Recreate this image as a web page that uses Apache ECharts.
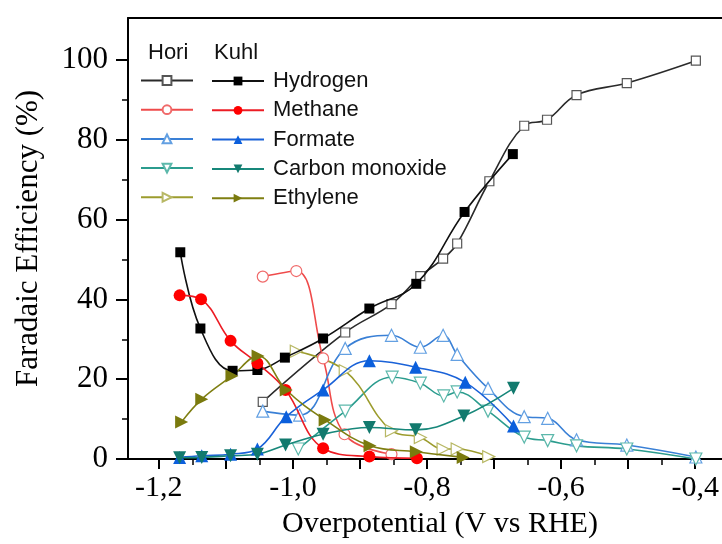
<!DOCTYPE html>
<html>
<head>
<meta charset="utf-8">
<script src="https://cdn.jsdelivr.net/npm/echarts@6/dist/echarts.min.js"></script>
<style>
  html, body { margin: 0; padding: 0; background: #fff; }
  #chart { width: 722px; height: 544px; }
</style>
</head>
<body>
<div id="chart"></div>
<script>
// Potentials (V vs RHE) and Faradaic efficiencies (%) per product
const horiH2X = [-1.045, -0.922, -0.853, -0.810, -0.776, -0.755, -0.707, -0.655, -0.621, -0.577, -0.502, -0.399];
const horiH2Y = [14.3, 31.7, 38.8, 45.8, 50.2, 54.0, 69.6, 83.5, 85.0, 91.2, 94.2, 99.8];
const kuhlH2X = [-1.168, -1.138, -1.090, -1.053, -1.012, -0.955, -0.886, -0.816, -0.744, -0.672];
const kuhlH2Y = [51.8, 32.7, 22.1, 22.3, 25.4, 30.2, 37.7, 43.9, 61.9, 76.4];

const horiCH4X = [-1.045, -0.995, -0.955, -0.923, -0.853];
const horiCH4Y = [45.7, 47.1, 25.2, 6.2, 1.2];
const kuhlCH4X = [-1.169, -1.137, -1.093, -1.053, -1.011, -0.955, -0.886, -0.815];
const kuhlCH4Y = [41.0, 40.0, 29.6, 24.0, 17.3, 2.7, 0.6, 0.2];

const horiHCOOX = [-1.045, -0.990, -0.922, -0.853, -0.810, -0.776, -0.755, -0.709, -0.655, -0.620, -0.577, -0.502, -0.399];
const horiHCOOY = [12.0, 11.0, 27.7, 31.0, 28.0, 31.0, 26.2, 17.7, 10.6, 10.2, 4.8, 3.5, 0.5];
const kuhlHCOOX = [-1.169, -1.136, -1.093, -1.053, -1.010, -0.955, -0.886, -0.817, -0.743, -0.671];
const kuhlHCOOY = [0.4, 0.8, 1.2, 2.5, 10.6, 17.3, 24.6, 23.0, 19.2, 8.3];

const horiCOX = [-0.992, -0.922, -0.852, -0.810, -0.775, -0.755, -0.709, -0.655, -0.620, -0.577, -0.502, -0.399];
const horiCOY = [2.5, 12.0, 20.5, 19.0, 15.8, 16.8, 12.0, 5.5, 4.6, 3.3, 2.5, 0.0];
const kuhlCOX = [-1.169, -1.136, -1.093, -1.053, -1.011, -0.955, -0.886, -0.817, -0.745, -0.671];
const kuhlCOY = [0.3, 0.4, 0.8, 1.2, 3.5, 6.2, 7.9, 7.3, 10.8, 17.7];

const horiC2H4X = [-0.995, -0.922, -0.853, -0.810, -0.776, -0.755, -0.708];
const horiC2H4Y = [27.0, 22.1, 7.1, 5.4, 2.5, 2.5, 0.6];
const kuhlC2H4X = [-1.166, -1.136, -1.091, -1.052, -1.010, -0.952, -0.885, -0.816, -0.746];
const kuhlC2H4Y = [9.3, 15.0, 20.8, 25.8, 17.3, 9.8, 3.3, 1.8, 0.4];

const products = ['Hydrogen', 'Methane', 'Formate', 'Carbon monoxide', 'Ethylene'];
const xLabelTicks = [-1.2, -1.0, -0.8, -0.6, -0.4];
const yLabelTicks = [0, 20, 40, 60, 80, 100];

const serif = 'Liberation Serif';
const sans = 'Liberation Sans';

function pairs(xs, ys) { return xs.map((x, i) => [x, ys[i]]); }

function series(name, xs, ys, opt) {
  return {
    name: name,
    type: 'line',
    smooth: 0.4,
    data: pairs(xs, ys),
    symbol: opt.symbol,
    symbolSize: opt.size,
    symbolRotate: opt.rotate || 0,
    lineStyle: { color: opt.line, width: 1.6 },
    itemStyle: opt.open
      ? { color: '#ffffff', borderColor: opt.mark, borderWidth: 1.2 }
      : { color: opt.mark, borderColor: opt.mark, borderWidth: 0 },
    z: opt.open ? 2 : 3,
    animation: false
  };
}

const seriesList = [
  series('Hori Hydrogen', horiH2X, horiH2Y, { symbol: 'rect', size: 9, line: '#2a2a2a', mark: '#555', open: true }),
  series('Hori Methane', horiCH4X, horiCH4Y, { symbol: 'circle', size: 11, line: '#ef4b4b', mark: '#f06a6a', open: true }),
  series('Hori Formate', horiHCOOX, horiHCOOY, { symbol: 'triangle', size: 12, line: '#3a80d6', mark: '#63a0e2', open: true }),
  series('Hori Carbon monoxide', horiCOX, horiCOY, { symbol: 'triangle', size: 12, rotate: 180, line: '#2b9c8e', mark: '#5cb8ab', open: true }),
  series('Hori Ethylene', horiC2H4X, horiC2H4Y, { symbol: 'triangle', size: 12, rotate: -90, line: '#9c9c2e', mark: '#b8b865', open: true }),
  series('Kuhl Hydrogen', kuhlH2X, kuhlH2Y, { symbol: 'rect', size: 10, line: '#111', mark: '#000', open: false }),
  series('Kuhl Methane', kuhlCH4X, kuhlCH4Y, { symbol: 'circle', size: 12, line: '#ec1c24', mark: '#ff0000', open: false }),
  series('Kuhl Formate', kuhlHCOOX, kuhlHCOOY, { symbol: 'triangle', size: 13, line: '#1a62d8', mark: '#0b5fdc', open: false }),
  series('Kuhl Carbon monoxide', kuhlCOX, kuhlCOY, { symbol: 'triangle', size: 13, rotate: 180, line: '#17877a', mark: '#127a6e', open: false }),
  series('Kuhl Ethylene', kuhlC2H4X, kuhlC2H4Y, { symbol: 'triangle', size: 13, rotate: -90, line: '#7f7f12', mark: '#7a7a0e', open: false })
];

const round2 = v => Math.round(v * 100) / 100;
const xMajor = [];
for (let i = 0; i <= 8; i++) xMajor.push(round2(-1.2 + 0.1 * i));
const xMinor = [];
for (let i = 0; i <= 8; i++) xMinor.push(round2(-1.15 + 0.1 * i));
const yMinor = [10, 30, 50, 70, 90];

const xMin = -1.246, xMax = -0.36;
const yMin = 0, yMax = 110.5;

const chart = echarts.init(document.getElementById('chart'), null, { renderer: 'canvas' });
chart.setOption({
  animation: false,
  backgroundColor: '#ffffff',
  grid: { left: 128, right: 0, top: 18, bottom: 84, containLabel: false },
  xAxis: [
    {
      type: 'value', min: xMin, max: xMax, position: 'bottom',
      name: 'Overpotential (V vs RHE)', nameLocation: 'middle', nameGap: 50,
      nameTextStyle: { fontFamily: serif, fontSize: 30, color: '#000', padding: [0, 0, 0, 30] },
      axisLine: { onZero: false, lineStyle: { color: '#000', width: 2 } },
      axisTick: { show: true, inside: false, length: 10, customValues: xMajor, lineStyle: { color: '#000', width: 2 } },
      axisLabel: {
        customValues: xLabelTicks, margin: 14,
        fontFamily: serif, fontSize: 30, color: '#000',
        formatter: v => v.toFixed(1).replace('.', ',')
      },
      splitLine: { show: false }
    },
    {
      type: 'value', min: xMin, max: xMax, position: 'bottom',
      axisLine: { show: false },
      axisTick: { show: true, inside: false, length: 6, customValues: xMinor, lineStyle: { color: '#000', width: 1.5 } },
      axisLabel: { show: false },
      splitLine: { show: false }
    },
    {
      type: 'value', min: xMin, max: xMax, position: 'top',
      axisLine: { onZero: false, lineStyle: { color: '#000', width: 2 } },
      axisTick: { show: false },
      axisLabel: { show: false },
      splitLine: { show: false }
    }
  ],
  yAxis: [
    {
      type: 'value', min: yMin, max: yMax, position: 'left',
      name: 'Faradaic Efficiency (%)', nameLocation: 'middle', nameGap: 84,
      nameTextStyle: { fontFamily: serif, fontSize: 31, color: '#000' },
      axisLine: { onZero: false, lineStyle: { color: '#000', width: 2 } },
      axisTick: { show: true, inside: false, length: 12, customValues: yLabelTicks, lineStyle: { color: '#000', width: 2 } },
      axisLabel: { customValues: yLabelTicks, margin: 20, fontFamily: serif, fontSize: 31, color: '#000' },
      splitLine: { show: false }
    },
    {
      type: 'value', min: yMin, max: yMax, position: 'left',
      axisLine: { show: false },
      axisTick: { show: true, inside: false, length: 6, customValues: yMinor, lineStyle: { color: '#000', width: 1.5 } },
      axisLabel: { show: false },
      splitLine: { show: false }
    }
  ],
  legend: [
    {
      orient: 'vertical', left: 140, top: 75, padding: 0,
      itemWidth: 52, itemHeight: 11, itemGap: 18.3,
      data: products.map(p => 'Hori ' + p),
      formatter: () => '',
      selectedMode: false,
      textStyle: { fontFamily: sans, fontSize: 22 }
    },
    {
      orient: 'vertical', left: 211, top: 70, padding: 0,
      itemWidth: 52, itemHeight: 11, itemGap: 7.3,
      data: products.map(p => 'Kuhl ' + p),
      formatter: name => name.replace('Kuhl ', ''),
      selectedMode: false,
      textStyle: { fontFamily: sans, fontSize: 22, lineHeight: 22, color: '#111', padding: [0, 0, 0, 4] }
    }
  ],
  graphic: [
    { type: 'text', left: 148, top: 42, style: { text: 'Hori', font: '22px "Liberation Sans"', fill: '#111' } },
    { type: 'text', left: 214, top: 42, style: { text: 'Kuhl', font: '22px "Liberation Sans"', fill: '#111' } }
  ],
  series: seriesList
});
</script>
</body>
</html>
